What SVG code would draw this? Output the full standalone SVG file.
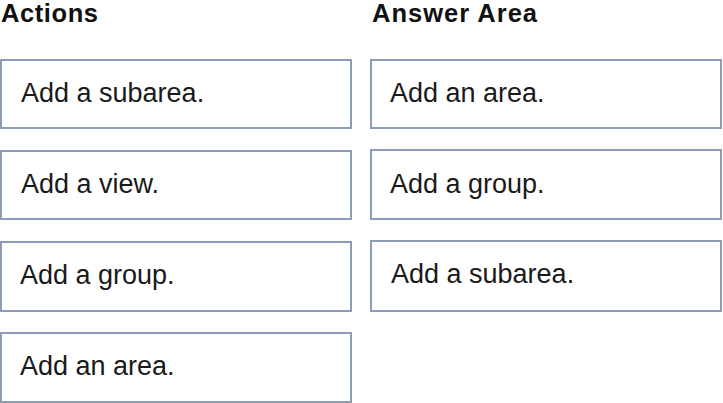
<svg xmlns="http://www.w3.org/2000/svg" width="723" height="403" viewBox="0 0 723 403">
<style>
.box{fill:#ffffff;stroke:#8d9cb8;stroke-width:2}
.t{font-family:"Liberation Sans",Arial,sans-serif;font-size:27px;fill:#1a1a1a}
.h{font-family:"Liberation Sans",Arial,sans-serif;font-size:25.5px;font-weight:bold;fill:#111111}
</style>
<rect width="723" height="403" fill="#ffffff"/>
<text class="h" x="1" y="21.5" textLength="97">Actions</text>
<text class="h" x="372" y="21.5" textLength="165">Answer Area</text>
<g id="action-subarea"><rect class="box" x="1" y="60" width="350" height="68"/><text class="t" x="21" y="102">Add a subarea.</text></g>
<g id="action-view"><rect class="box" x="1" y="151" width="350" height="68"/><text class="t" x="21" y="193">Add a view.</text></g>
<g id="action-group"><rect class="box" x="1" y="242" width="350" height="69"/><text class="t" x="20" y="284">Add a group.</text></g>
<g id="action-area"><rect class="box" x="1" y="333" width="350" height="69"/><text class="t" x="20" y="375">Add an area.</text></g>
<g id="answer-area"><rect class="box" x="371" y="60" width="350" height="68"/><text class="t" x="390" y="102">Add an area.</text></g>
<g id="answer-group"><rect class="box" x="371" y="150" width="350" height="69"/><text class="t" x="390" y="193">Add a group.</text></g>
<g id="answer-subarea"><rect class="box" x="371" y="241" width="350" height="70"/><text class="t" x="391" y="283">Add a subarea.</text></g>
<g id="connectors"/>
</svg>
